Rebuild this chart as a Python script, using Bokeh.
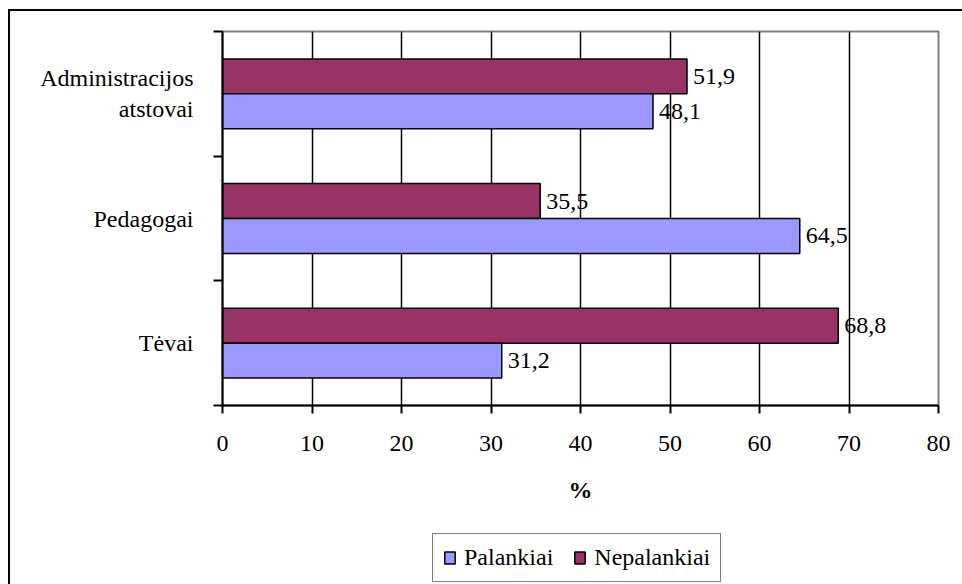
from bokeh.plotting import figure
from bokeh.layouts import column
from bokeh.models import FixedTicker, Legend, LegendItem, ColumnDataSource, Range1d
from bokeh.embed import file_html
from bokeh.resources import INLINE
from bokeh.core.properties import value

# ---- data (bottom to top) ----
categories = ["Tėvai", "Pedagogai", "Administracijos\natstovai"]
palankiai = [31.2, 64.5, 48.1]
nepalankiai = [68.8, 35.5, 51.9]
x_ticks = [0, 10, 20, 30, 40, 50, 60, 70, 80]
series_names = ["Palankiai", "Nepalankiai"]
x_title = "%"

FONT = "Liberation Serif"
FS = "24px"
PAL_COLOR = "#9999FF"
NEP_COLOR = "#993366"
BAR_H = 0.28

centers = [i + 0.5 for i in range(len(categories))]

def fmt(v):
    return f"{v:.1f}".replace(".", ",")

src_pal = ColumnDataSource(dict(y=[c - BAR_H / 2 for c in centers], v=palankiai,
                                lbl=[fmt(v) for v in palankiai]))
src_nep = ColumnDataSource(dict(y=[c + BAR_H / 2 for c in centers], v=nepalankiai,
                                lbl=[fmt(v) for v in nepalankiai]))

p = figure(frame_width=716, frame_height=374,
           x_range=Range1d(x_ticks[0], x_ticks[-1]), y_range=Range1d(0, len(categories)),
           output_backend="svg", toolbar_location=None,
           min_border_left=212, min_border_top=20, min_border_right=24, min_border_bottom=115)
p.background_fill_color = "white"
p.border_fill_color = "white"
p.outline_line_color = "#808080"
p.outline_line_width = 2

r_nep = p.hbar(y="y", right="v", left=0, height=BAR_H, source=src_nep,
               fill_color=NEP_COLOR, line_color="black", line_width=1.5)
r_pal = p.hbar(y="y", right="v", left=0, height=BAR_H, source=src_pal,
               fill_color=PAL_COLOR, line_color="black", line_width=1.5)

for src in (src_pal, src_nep):
    p.text(x="v", y="y", text="lbl", source=src, x_offset=6,
           text_align="left", text_baseline="middle",
           text_font=value(FONT), text_font_size=FS, text_color="black")

# x axis
xa = p.xaxis[0]
xa.ticker = FixedTicker(ticks=x_ticks)
xa.axis_line_color = "black"
xa.axis_line_width = 2
xa.major_tick_line_width = 2
xa.major_tick_out = 8
xa.major_tick_in = 0
xa.minor_tick_line_color = None
xa.major_label_standoff = 22
xa.major_label_text_font = FONT
xa.major_label_text_font_size = FS
xa.major_label_text_color = "black"
xa.axis_label = x_title
xa.axis_label_text_font = FONT
xa.axis_label_text_font_size = FS
xa.axis_label_text_font_style = "bold"
xa.axis_label_text_color = "black"
xa.axis_label_standoff = 23

# y axis
ya = p.yaxis[0]
ya.ticker = FixedTicker(ticks=centers, minor_ticks=list(range(len(categories) + 1)))
ya.major_label_overrides = {c: cat for c, cat in zip(centers, categories)}
ya.axis_line_color = "black"
ya.axis_line_width = 2
ya.major_tick_out = 0
ya.major_tick_in = 0
ya.minor_tick_out = 9
ya.minor_tick_in = 0
ya.minor_tick_line_width = 2
ya.minor_tick_line_color = "black"
ya.major_label_standoff = 20
ya.major_label_text_align = "center"
ya.major_label_text_font = FONT
ya.major_label_text_font_size = FS
ya.major_label_text_color = "black"

# grid
p.xgrid.ticker = FixedTicker(ticks=x_ticks[1:-1])
p.xgrid.grid_line_color = "black"
p.xgrid.grid_line_width = 1.5
p.ygrid.visible = False

# legend strip (separate small canvas under the chart); swatch renderers hidden under the legend box
p2 = figure(width=952, height=64, x_range=Range1d(0, 1), y_range=Range1d(0, 1),
            output_backend="svg", toolbar_location=None,
            x_axis_type=None, y_axis_type=None, min_border=0)
p2.outline_line_color = None
p2.xgrid.visible = False
p2.ygrid.visible = False
p2.background_fill_color = "white"
p2.border_fill_color = "white"
g_pal = p2.hbar(y=[0.4], right=[0.46], left=0.45, height=0.1,
                fill_color=PAL_COLOR, line_color="black", line_width=1.5)
g_nep = p2.hbar(y=[0.4], right=[0.46], left=0.45, height=0.1,
                fill_color=NEP_COLOR, line_color="black", line_width=1.5)
legend = Legend(items=[LegendItem(label=series_names[0], renderers=[g_pal]),
                       LegendItem(label=series_names[1], renderers=[g_nep])],
                location=(210, 2), orientation="horizontal",
                border_line_color="black", border_line_width=1.5,
                background_fill_color="white", background_fill_alpha=1,
                glyph_width=13, glyph_height=15, label_standoff=8, spacing=20,
                padding=10, margin=0,
                label_text_font=FONT, label_text_font_size=FS, label_text_color="black")
p2.add_layout(legend)

layout = column(p, p2, spacing=0)
layout.styles = {"margin-left": "8px", "margin-top": "9px",
                 "border-left": "2px solid black", "border-top": "2px solid black"}

open("out.html", "w").write(file_html(layout, INLINE))
